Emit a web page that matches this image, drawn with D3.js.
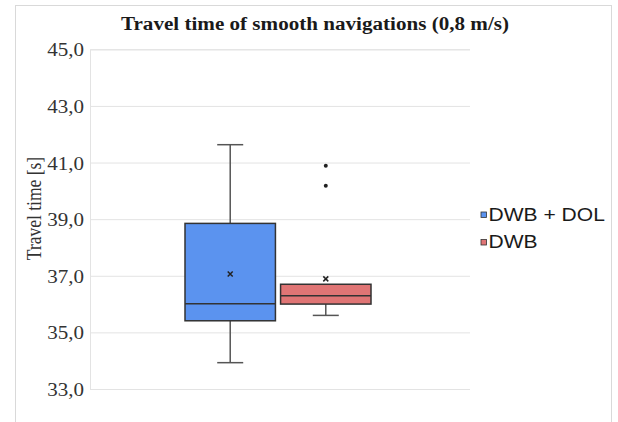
<!DOCTYPE html>
<html><head><meta charset="utf-8">
<script src="https://cdn.jsdelivr.net/npm/d3@7"></script>
<style>body{margin:0;background:#fff}svg{display:block}</style>
</head><body>
<svg id="c" width="618" height="422"></svg>
<script>
const series = ["DWB + DOL", "DWB"];
const colors = ["#5b93ef", "#e07575"];
const q1 = [35.41, 36.00];
const median = [36.01, 36.29];
const q3 = [38.85, 36.70];
const whiskerLow = [33.93, 35.60];
const whiskerHigh = [41.63, 36.70];
const means = [37.06, 36.89];
const outliers = [[], [40.89, 40.18]];
const yTicks = [33, 35, 37, 39, 41, 43, 45];

const svg = d3.select("#c");
const m = {left: 90, right: 470, top: 49.3, bottom: 389};
const y = d3.scaleLinear().domain([33, 45]).range([m.bottom, m.top]);
const x = d3.scaleBand().domain(series).range([185, 371]).paddingInner(10/186);
const SX = 1.17;

svg.append("rect").attr("x", 15.5).attr("y", 5.5).attr("width", 596).attr("height", 430)
  .attr("fill", "#fff").attr("stroke", "#d9d9d9");

svg.append("text").attr("x", 315).attr("y", 30).attr("text-anchor", "middle")
  .attr("font-family", "Liberation Serif").attr("font-weight", "bold").attr("font-size", 18.5)
  .attr("textLength", 388).attr("lengthAdjust", "spacingAndGlyphs")
  .attr("fill", "#1a1a1a").text("Travel time of smooth navigations (0,8 m/s)");

const yAxis = d3.axisLeft(y).tickValues(yTicks).tickSize(-(m.right - m.left))
  .tickFormat(d => d3.format(".1f")(d).replace(".", ","));
const ga = svg.append("g").attr("transform", `translate(${m.left},0)`).call(yAxis);
ga.select(".domain").attr("stroke", "#e3e3e3");
ga.selectAll(".tick line").attr("stroke", "#e3e3e3");
ga.selectAll(".tick text").attr("x", 0).attr("dy", "0.36em")
  .attr("transform", `translate(-6,0) scale(${SX},1)`)
  .attr("font-family", "Liberation Serif").attr("font-size", 18).attr("fill", "#333");

svg.append("text").attr("transform", `translate(41,208.5) scale(${SX},1) rotate(-90)`)
  .attr("text-anchor", "middle").attr("font-family", "Liberation Serif").attr("font-size", 17.5)
  .attr("fill", "#333").text("Travel time [s]");

series.forEach((s, i) => {
  const g = svg.append("g");
  const x0 = x(s), w = x.bandwidth(), cx = x0 + w / 2, cap = 13;
  g.append("line").attr("x1", cx).attr("x2", cx).attr("y1", y(q3[i])).attr("y2", y(whiskerHigh[i]))
    .attr("stroke", "#555").attr("stroke-width", 1.5);
  g.append("line").attr("x1", cx).attr("x2", cx).attr("y1", y(q1[i])).attr("y2", y(whiskerLow[i]))
    .attr("stroke", "#555").attr("stroke-width", 1.5);
  if (whiskerHigh[i] > q3[i])
    g.append("line").attr("x1", cx - cap).attr("x2", cx + cap).attr("y1", y(whiskerHigh[i])).attr("y2", y(whiskerHigh[i]))
      .attr("stroke", "#555").attr("stroke-width", 1.5);
  g.append("line").attr("x1", cx - cap).attr("x2", cx + cap).attr("y1", y(whiskerLow[i])).attr("y2", y(whiskerLow[i]))
    .attr("stroke", "#555").attr("stroke-width", 1.5);
  g.append("rect").attr("x", x0).attr("y", y(q3[i])).attr("width", w).attr("height", y(q1[i]) - y(q3[i]))
    .attr("fill", colors[i]).attr("stroke", "#333").attr("stroke-width", 1.5);
  g.append("line").attr("x1", x0).attr("x2", x0 + w).attr("y1", y(median[i])).attr("y2", y(median[i]))
    .attr("stroke", "#333").attr("stroke-width", 1.5);
  const my = y(means[i]), r = 2.5;
  g.append("path").attr("d", `M${cx - r},${my - r}L${cx + r},${my + r}M${cx - r},${my + r}L${cx + r},${my - r}`)
    .attr("stroke", "#222").attr("stroke-width", 1.5);
  outliers[i].forEach(v => {
    g.append("circle").attr("cx", cx).attr("cy", y(v)).attr("r", 2).attr("fill", "#222");
  });
});

const lg = svg.append("g");
series.forEach((s, i) => {
  const base = 220.5 + i * 27.5;
  lg.append("rect").attr("x", 481).attr("y", base - 8.5).attr("width", 5.5).attr("height", 5.5)
    .attr("fill", colors[i]).attr("stroke", "#333").attr("stroke-width", 0.8);
  lg.append("text").attr("transform", `translate(488.5,${base}) scale(${SX},1)`)
    .attr("font-family", "Liberation Sans").attr("font-size", 18).attr("fill", "#1a1a1a").text(s);
});
</script>
</body></html>
